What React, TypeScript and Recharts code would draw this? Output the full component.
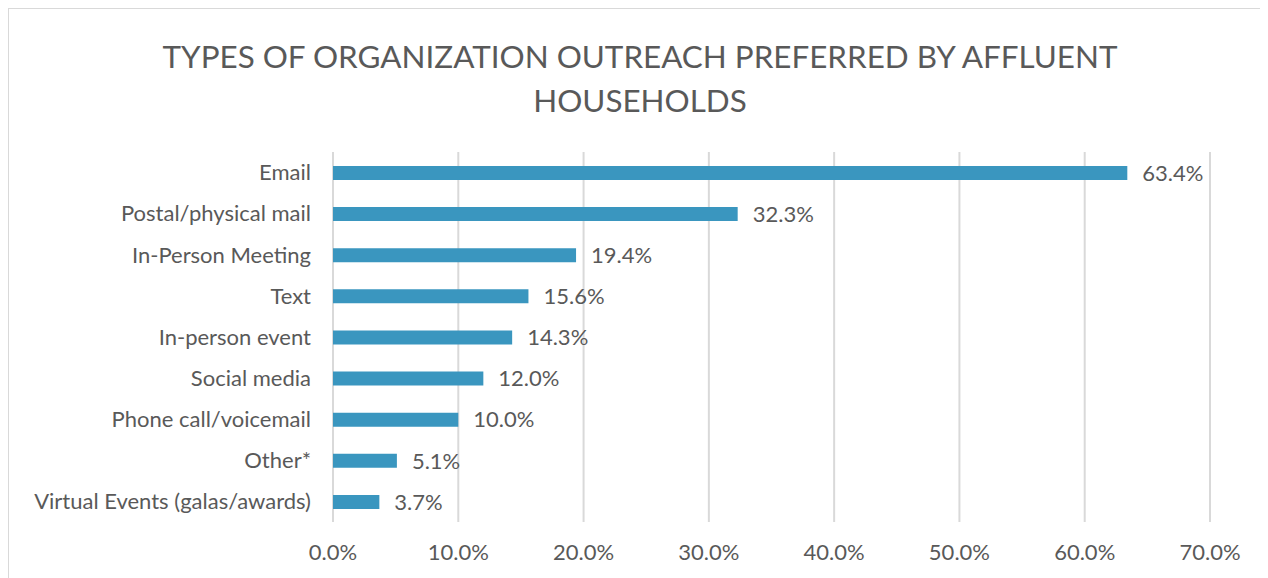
import React from 'react';
import { BarChart, Bar, XAxis, YAxis, CartesianGrid, LabelList } from 'recharts';

const categories = [
  'Email',
  'Postal/physical mail',
  'In-Person Meeting',
  'Text',
  'In-person event',
  'Social media',
  'Phone call/voicemail',
  'Other*',
  'Virtual Events (galas/awards)',
];
const shares = [63.4, 32.3, 19.4, 15.6, 14.3, 12.0, 10.0, 5.1, 3.7];
const xTicks = [0, 10, 20, 30, 40, 50, 60, 70];

const data = categories.map((name, i) => ({ name, value: shares[i] }));

const FONT = 'Lato, "Open Sans", sans-serif';
const TEXT = '#595959';

const pct = (v: any) => `${Number(v).toFixed(1)}%`;

export default function App() {
  return (
    <div
      style={{
        position: 'relative',
        width: 1268,
        height: 570,
        borderTop: '1px solid #d9d9d9',
        borderLeft: '1px solid #d9d9d9',
        background: '#fff',
      }}
    >
      <div
        style={{
          position: 'absolute',
          left: 0,
          width: 1262,
          top: 25,
          textAlign: 'center',
          color: TEXT,
          fontFamily: FONT,
          fontSize: 31.4,
          lineHeight: '44px',
          fontWeight: 400,
        }}
      >
        TYPES OF ORGANIZATION OUTREACH PREFERRED BY AFFLUENT
        <br />
        HOUSEHOLDS
      </div>
      <BarChart
        width={1259}
        height={569}
        data={data}
        layout="vertical"
        margin={{ top: 143, right: 58, bottom: 16, left: 0 }}
        barCategoryGap={0}
      >
        <CartesianGrid horizontal={false} stroke="#d9d9d9" strokeWidth={2} />
        <XAxis
          type="number"
          domain={[0, 70]}
          ticks={xTicks}
          tickFormatter={pct}
          axisLine={false}
          tickLine={false}
          tickSize={0}
          tickMargin={22}
          height={40}
          tick={{ fill: TEXT, fontSize: 22, fontFamily: FONT }}
          interval={0}
        />
        <YAxis
          type="category"
          dataKey="name"
          width={324}
          axisLine={false}
          tickLine={false}
          tickSize={0}
          tickMargin={22}
          interval={0}
          tick={{ fill: TEXT, fontSize: 22, fontFamily: FONT }}
        />
        <Bar dataKey="value" fill="#3a96bf" barSize={14} isAnimationActive={false}>
          <LabelList
            dataKey="value"
            position="right"
            offset={15}
            formatter={pct}
            style={{ fill: TEXT, fontSize: 22, fontFamily: FONT }}
          />
        </Bar>
      </BarChart>
    </div>
  );
}
